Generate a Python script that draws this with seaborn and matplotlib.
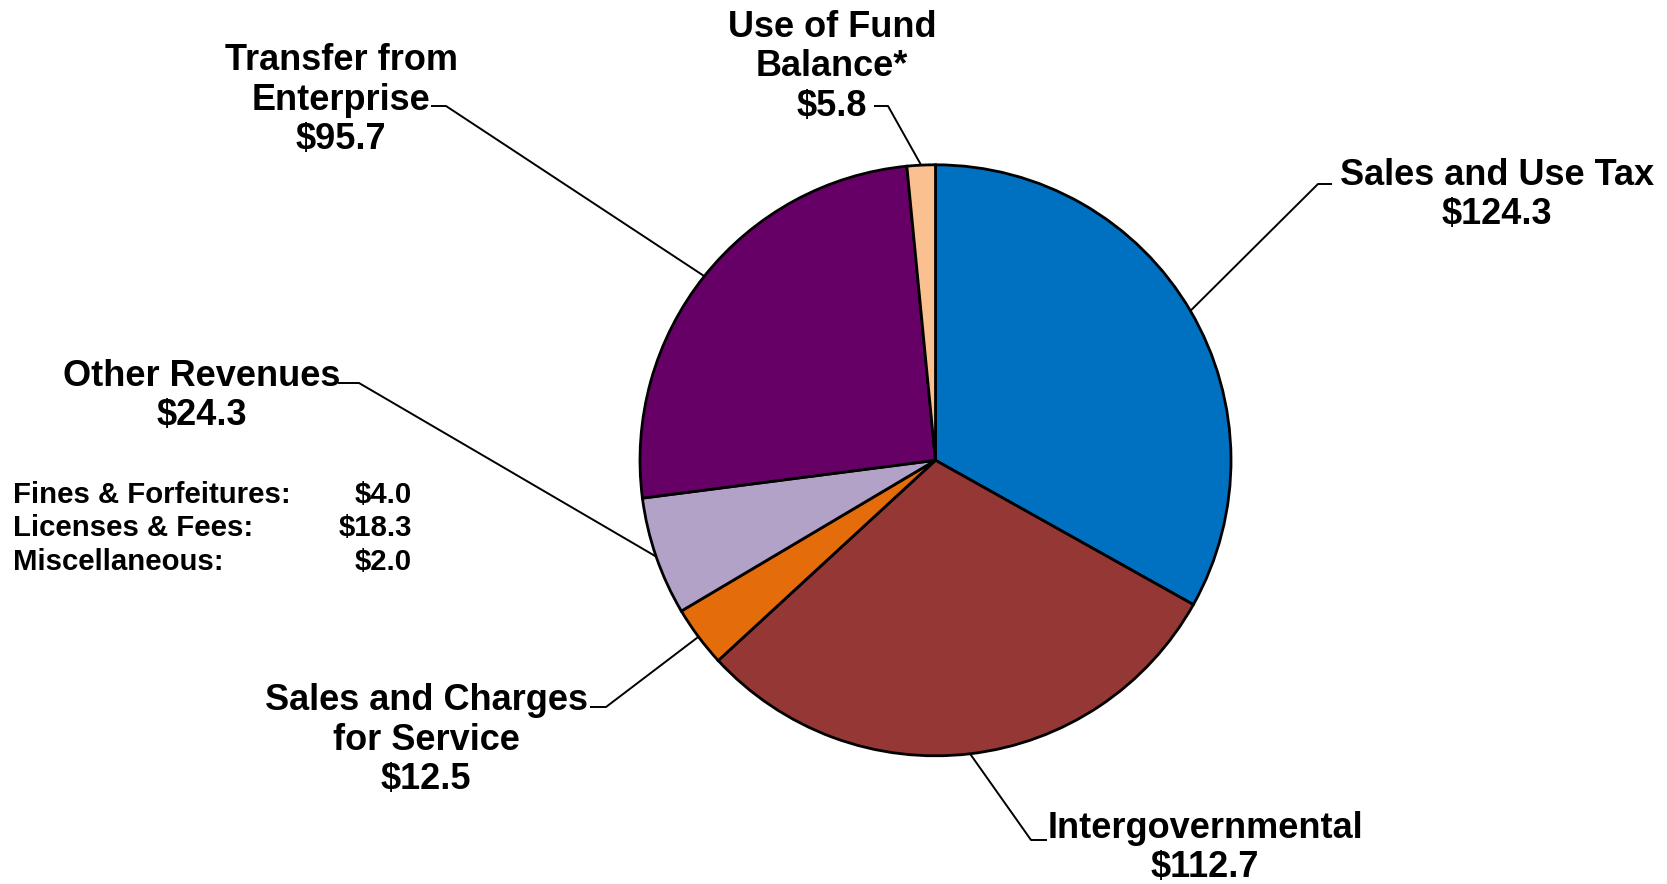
import numpy as np
import matplotlib
matplotlib.use("Agg")
import matplotlib.pyplot as plt
import seaborn as sns

# Revenue sources ($ millions), clockwise from 12 o'clock
categories = ["Sales and Use Tax", "Intergovernmental", "Sales and Charges\nfor Service",
              "Other Revenues", "Transfer from\nEnterprise", "Use of Fund\nBalance*"]
values = [124.3, 112.7, 12.5, 24.3, 95.7, 5.8]
colors = ["#0070C0", "#953735", "#E46C0A", "#B2A2C7", "#660066", "#FAC090"]

# breakdown of Other Revenues
other_items = ["Fines & Forfeitures:", "Licenses & Fees:", "Miscellaneous:"]
other_values = [4.0, 18.3, 2.0]

sns.set_style("white")
plt.rcParams['font.family'] = ['Liberation Sans', 'DejaVu Sans']
plt.rcParams['font.weight'] = 'bold'
plt.rcParams['text.color'] = 'black'

W, H = 1667, 884
fig = plt.figure(figsize=(W / 100, H / 100), dpi=100)
ax = fig.add_axes([0, 0, 1, 1])

cx, cy, r = 935.5, H - 460.3, 295.5
wedges, _ = ax.pie(values, colors=colors, startangle=90, counterclock=False,
                   center=(cx, cy), radius=r, frame=True,
                   wedgeprops=dict(edgecolor='black', linewidth=2))
ax.set_xlim(0, W)
ax.set_ylim(0, H)
ax.axis('off')

# label layout: text block centre (pixels from top-left), elbow start, elbow end
layout = [
    dict(x=1497, y=195, e1=(1332, 184), e2=(1318, 184)),
    dict(x=1205, y=848, e1=(1047, 840), e2=(1031, 840)),
    dict(x=426, y=740, e1=(590, 707), e2=(606, 707)),
    dict(x=202, y=396, e1=(338, 383), e2=(359, 383)),
    dict(x=341, y=100, e1=(431, 106), e2=(446, 106)),
    dict(x=832, y=67, e1=(874, 106), e2=(888, 106)),
]

for w, cat, val, lay in zip(wedges, categories, values, layout):
    mid = np.deg2rad((w.theta1 + w.theta2) / 2)
    px, py = cx + r * np.cos(mid), cy + r * np.sin(mid)
    (x1, y1), (x2, y2) = lay['e1'], lay['e2']
    ax.plot([x1, x2, px], [H - y1, H - y2, py], color='black', lw=1.4,
            solid_capstyle='butt', zorder=0)
    ax.text(lay['x'], H - lay['y'], f"{cat}\n${val:.1f}", ha='center', va='center',
            fontsize=26, fontweight='bold', linespacing=1.18, color='black')

for i, (item, v) in enumerate(zip(other_items, other_values)):
    yy = H - (495 + i * 33.5)
    ax.text(13, yy, item, ha='left', va='center', fontsize=21.2, fontweight='bold')
    ax.text(412, yy, f"${v:.1f}", ha='right', va='center', fontsize=21.2, fontweight='bold')

fig.savefig("out.png", dpi=100)
